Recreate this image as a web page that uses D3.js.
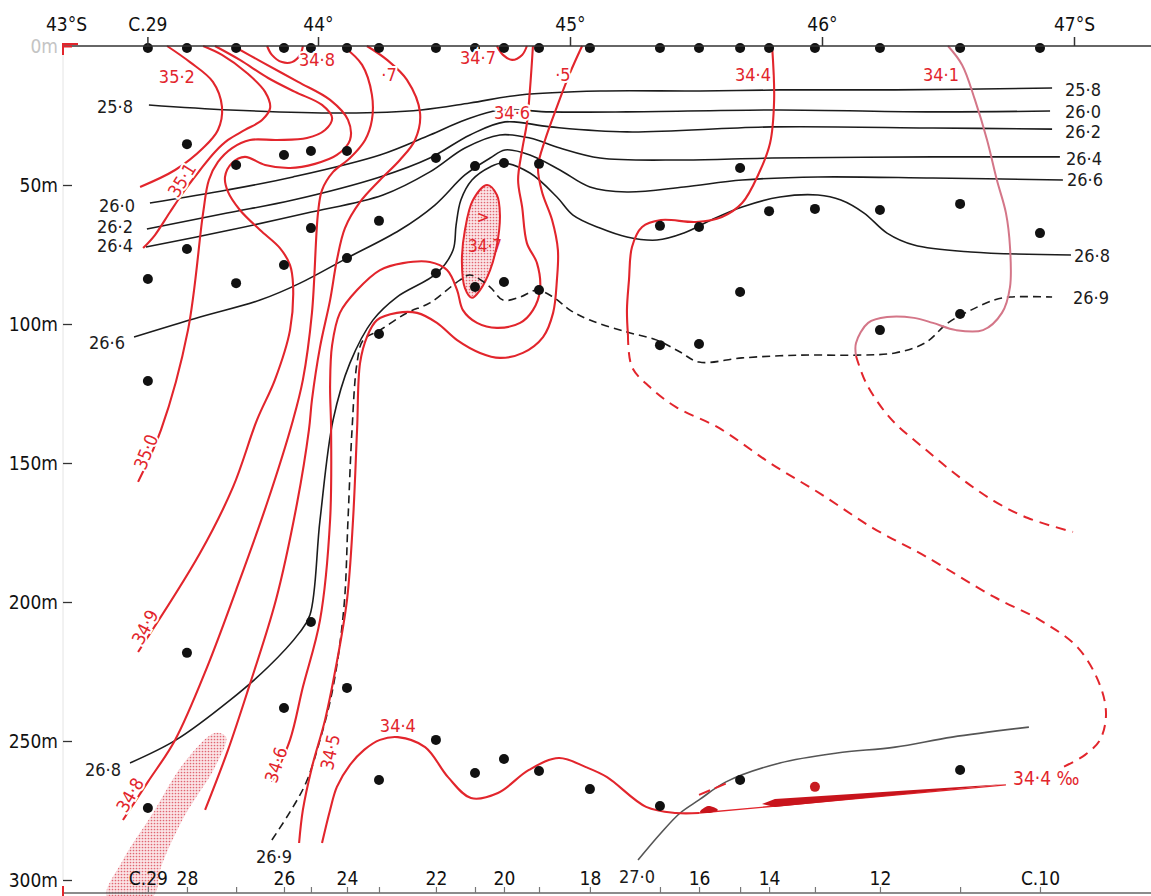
<!DOCTYPE html>
<html>
<head>
<meta charset="utf-8">
<script src="https://cdn.jsdelivr.net/npm/d3@7"></script>
<style>
  body { margin: 0; background: #fff; }
  text { font-family: "DejaVu Sans Condensed", "DejaVu Sans", sans-serif; }
</style>
</head>
<body>
<script>
// --- Stations (bottom axis) and sample depths ---
const stationIds = [29, 28, 27, 26, 25, 24, 23, 22, 21, 20, 19, 18, 17, 16, 15, 14, 13, 12, 11, 10];
const stationLat = [43.325, 43.480, 43.675, 43.865, 43.972, 44.115, 44.242, 44.468, 44.623, 44.738,
                    44.877, 45.079, 45.357, 45.512, 45.675, 45.790, 45.972, 46.230, 46.548, 46.865];
const stationLabels = ["C.29", "28", "", "26", "", "24", "", "22", "", "20", "", "18", "", "16", "", "14", "", "12", "", "C.10"];
const sampleDepths = [
  [0.7, 83.8, 120.5, 274.1], [0.7, 35.3, 73.0, 218.3], [0.7, 42.8, 85.3], [0.7, 39.2, 78.8, 238.1],
  [0.7, 37.8, 65.5, 207.2], [0.7, 37.8, 76.3, 230.9], [0.7, 62.9, 103.6, 264.0], [0.7, 40.3, 81.7, 249.6],
  [0.7, 43.2, 86.7, 261.5], [0.7, 42.1, 84.9, 256.5], [0.7, 42.4, 87.8, 260.8], [0.7, 267.3],
  [0.7, 64.7, 107.6, 273.4], [0.7, 65.1, 107.2], [0.7, 43.9, 88.5, 264.0], [0.7, 59.4],
  [0.7, 58.6], [0.7, 59.0, 102.2], [0.7, 56.8, 96.4, 260.4], [0.7, 67.3]
];
const redSamples = [[13, 266.5]];

const latTicks = [43, 44, 45, 46, 47];
const latTickLabels = ["43°S", "44°", "45°", "46°", "47°S"];
const depthTicks = [0, 50, 100, 150, 200, 250, 300];

// --- Isopycnals (sigma-t), [latitude °S, depth m] ---
const iso258 = [[43.329,21.2],[43.651,23.0],[44.107,24.1],[44.409,23.0],[44.603,20.5],[44.802,17.6],[45.119,16.2],[45.516,16.2],[45.833,15.8],[46.290,15.8],[46.913,15.1]];
const iso260 = [[43.333,56.5],[43.639,51.8],[43.901,47.1],[44.246,39.2],[44.444,32.0],[44.583,26.6],[44.722,23.0],[44.921,23.7],[45.226,23.7],[45.833,23.0],[46.440,23.7],[46.905,23.4]];
const iso262 = [[43.321,65.8],[43.639,60.1],[43.901,55.4],[44.246,47.1],[44.444,40.3],[44.603,32.0],[44.742,27.3],[44.921,29.1],[45.226,30.9],[45.802,29.1],[46.440,29.5],[46.913,29.9]];
const iso264 = [[43.317,72.3],[43.651,66.2],[43.956,60.1],[44.258,53.6],[44.444,45.3],[44.583,36.7],[44.722,32.0],[44.841,33.1],[44.960,36.7],[45.119,40.3],[45.452,41.0],[45.802,40.3],[46.440,39.9],[46.944,39.9]];
const iso266 = [[43.270,104.7],[43.532,97.5],[43.770,91.4],[43.929,85.3],[44.115,76.3],[44.325,66.2],[44.464,57.2],[44.583,46.4],[44.683,40.3],[44.742,37.4],[44.841,39.2],[44.960,44.6],[45.079,50.7],[45.226,52.5],[45.452,50.7],[45.683,48.2],[45.984,47.1],[46.440,47.5],[46.956,48.2]];
const iso268 = [[43.254,257.9],[43.437,249.6],[43.651,235.3],[43.802,223.4],[43.925,211.2],[43.968,204.7],[44.008,170.5],[44.060,134.5],[44.127,114.0],[44.218,98.6],[44.313,90.3],[44.472,81.7],[44.536,73.4],[44.548,64.4],[44.567,55.4],[44.611,48.2],[44.683,43.5],[44.734,42.1],[44.841,45.7],[44.948,54.3],[45.012,60.8],[45.119,65.5],[45.226,68.7],[45.345,69.8],[45.452,67.3],[45.560,62.6],[45.683,57.9],[45.833,54.3],[45.984,53.6],[46.075,55.4],[46.167,60.1],[46.258,67.3],[46.365,71.6],[46.591,74.1],[46.988,75.2]];
const iso269 = [[43.817,285.6],[43.889,275.5],[43.952,265.1],[44.008,249.6],[44.060,230.6],[44.103,201.8],[44.119,170.5],[44.135,138.1],[44.155,114.0],[44.179,105.8],[44.246,102.2],[44.353,96.0],[44.444,92.4],[44.563,84.2],[44.603,82.4],[44.683,86.7],[44.734,91.4],[44.802,90.3],[44.869,87.8],[44.933,90.3],[45.000,95.0],[45.079,98.6],[45.226,102.9],[45.345,105.8],[45.437,110.1],[45.512,113.7],[45.683,112.2],[45.909,111.2],[46.135,111.2],[46.290,110.4],[46.409,106.8],[46.500,99.6],[46.591,95.0],[46.683,91.4],[46.746,90.3],[46.913,90.3]];
const iso270 = [[45.270,292.8],[45.361,283.1],[45.437,275.9],[45.512,271.2],[45.619,264.7],[45.833,257.9],[46.060,254.3],[46.290,252.2],[46.516,248.6],[46.821,245.0]];

// --- Isohalines (salinity ‰) ---
const sal352 = [[43.401,0],[43.492,5.8],[43.583,12.9],[43.619,21.9],[43.603,30.2],[43.544,36.7],[43.433,44.6],[43.294,50.7]];
const sal351 = [[43.544,0],[43.619,3.2],[43.718,9.7],[43.790,16.5],[43.810,22.3],[43.778,26.6],[43.710,30.2],[43.643,33.8],[43.591,38.1],[43.532,44.6],[43.472,51.8],[43.413,59.7],[43.353,68.0],[43.306,72.7]];
const sal350 = [[43.591,0],[43.690,5.0],[43.802,11.5],[43.909,16.5],[44.016,21.2],[44.056,25.9],[44.028,30.2],[43.956,33.1],[43.837,33.8],[43.730,33.8],[43.659,36.7],[43.603,41.7],[43.567,48.2],[43.544,60.1],[43.484,102.2],[43.377,138.1],[43.286,156.8]];
const sal349 = [[43.663,0],[43.778,5.8],[43.921,12.9],[44.048,19.4],[44.119,26.6],[44.127,33.8],[44.075,39.2],[43.988,42.4],[43.889,43.9],[43.790,42.8],[43.710,39.9],[43.659,42.1],[43.631,47.1],[43.643,52.5],[43.690,59.0],[43.770,66.2],[43.849,72.7],[43.889,78.8],[43.901,86.0],[43.889,102.2],[43.829,120.1],[43.758,134.5],[43.663,158.6],[43.532,182.4],[43.286,218.0]];
const sal348 = [[44.099,0],[44.175,6.8],[44.214,17.6],[44.214,26.6],[44.187,33.8],[44.127,40.3],[44.060,45.3],[44.016,51.8],[44.000,60.1],[43.976,96.0],[43.940,120.1],[43.901,134.5],[43.798,164.4],[43.675,195.7],[43.560,223.4],[43.433,249.6],[43.325,264.7],[43.226,278.4]];
const sal347 = [[44.194,0],[44.274,5.0],[44.353,12.2],[44.405,24.1],[44.385,33.8],[44.325,41.0],[44.246,48.2],[44.167,56.1],[44.107,65.5],[44.075,77.0],[44.048,91.4],[44.008,108.3],[43.976,127.3],[43.964,138.1],[43.917,164.4],[43.833,199.3],[43.722,231.7],[43.643,253.2],[43.552,274.8]];
const sal346 = [[44.853,0],[44.841,15.8],[44.829,27.7],[44.810,37.4],[44.794,48.2],[44.810,57.9],[44.829,70.9],[44.869,78.1],[44.881,87.8],[44.853,95.0],[44.802,99.6],[44.710,101.4],[44.631,99.6],[44.575,95.0],[44.552,87.8],[44.512,80.6],[44.444,77.7],[44.337,78.1],[44.246,80.6],[44.155,87.8],[44.087,96.0],[44.056,107.6],[44.048,121.9],[44.052,138.1],[44.048,170.5],[44.008,206.5],[43.940,230.6],[43.889,249.6],[43.817,264.7]];
const sal345 = [[45.048,0],[45.000,9.7],[44.948,21.9],[44.901,33.8],[44.873,43.5],[44.889,52.5],[44.929,62.6],[44.952,73.4],[44.948,84.2],[44.933,96.0],[44.893,104.7],[44.813,110.4],[44.722,112.2],[44.643,110.4],[44.552,105.8],[44.472,99.6],[44.393,96.0],[44.313,96.0],[44.234,98.6],[44.194,104.7],[44.167,114.0],[44.155,138.1],[44.139,170.5],[44.115,199.3],[44.071,223.4],[44.028,242.4],[43.976,259.4],[43.940,274.8],[43.925,286.7]];
const sal348Surface = [[43.798,0],[43.817,3.2],[43.857,5.8],[43.897,5.8],[43.929,3.2],[43.940,0]];
const sal347Surface = [[44.710,0],[44.734,3.2],[44.770,5.0],[44.810,3.2],[44.829,0]];
const sal347Core = [[44.671,50.0],[44.710,53.6],[44.722,60.8],[44.710,71.6],[44.683,80.6],[44.643,87.8],[44.611,90.6],[44.583,87.1],[44.571,77.7],[44.583,66.2],[44.615,55.4]];
const sal349Core = [[43.591,247.1],[43.635,248.6],[43.591,259.4],[43.468,277.3],[43.377,295.3],[43.345,305.8],[43.163,305.8],[43.226,292.8],[43.345,275.9],[43.468,257.9]];
const sal344Deep = [[44.016,286.7],[44.048,274.8],[44.075,266.5],[44.127,258.6],[44.183,253.2],[44.246,249.6],[44.317,248.6],[44.425,252.2],[44.516,263.0],[44.607,270.5],[44.714,268.7],[44.837,260.4],[44.956,256.1],[45.063,259.4],[45.147,263.0],[45.302,273.7],[45.421,275.9],[45.512,275.9]];
const sal344Tail = [[45.512,275.9],[46.730,265.8]];
const sal344Wedge = [[45.762,272.7],[45.813,270.9],[46.730,265.5],[45.813,273.7]];
const sal344Blob = [[45.516,275.5],[45.548,273.4],[45.587,274.8],[45.548,275.9]];
const sal344Upper = [[45.512,269.4],[45.635,264.7]];
const sal344 = [[45.802,0],[45.810,19.4],[45.794,34.9],[45.750,45.7],[45.683,56.5],[45.603,61.5],[45.500,63.3],[45.361,62.6],[45.286,65.1],[45.246,72.3],[45.234,84.2],[45.226,95.0],[45.230,104.0]];
const sal344Inferred = [[45.230,104.0],[45.246,115.5],[45.317,122.7],[45.421,129.9],[45.591,137.4],[45.794,150.0],[45.996,161.2],[46.202,173.4],[46.409,183.5],[46.683,198.2],[46.865,206.5],[47.016,216.5],[47.103,229.9],[47.127,240.6],[47.103,249.6],[47.044,255.0],[46.956,259.4]];
const sal341 = [[46.500,0],[46.556,6.8],[46.607,19.4],[46.655,33.8],[46.694,48.2],[46.730,60.1],[46.746,72.3],[46.746,86.7],[46.714,96.0],[46.639,102.2],[46.532,102.2],[46.440,99.6],[46.365,97.8],[46.258,97.5],[46.183,99.6],[46.135,106.8],[46.135,111.5]];
const sal341Inferred = [[46.135,111.5],[46.175,121.2],[46.270,133.8],[46.409,145.0],[46.544,155.0],[46.683,163.7],[46.817,169.8],[46.996,174.8]];

// --- Labels [text, latitude, depth, rotation] ---
const redLabels = [
  ["35·2", 43.440, 11.0, 0], ["34·8", 43.996, 5.0, 0], ["·7", 44.282, 10.4, 0], ["34·7", 44.635, 4.3, 0],
  ["·5", 44.972, 10.4, 0], ["34·6", 44.770, 24.1, 0], ["34·4", 45.726, 10.4, 0],
  ["35·1", 43.460, 48.2, -58], ["35·0", 43.317, 146.0, -68], ["34·9", 43.313, 209.0, -62],
  ["34·8", 43.254, 269.4, -60], ["34·6", 43.833, 258.6, -72], ["34·5", 44.048, 254.0, -78],
  ["34·4", 44.317, 244.6, 0]
];
const pinkLabels = [["34·1", 46.472, 10.4, 0]];
const coreLabels = [[">", 44.655, 61.5], ["34·7", 44.663, 72.0]];
const isoLabelsLeft = [["25·8", 43.266, 21.9], ["26·0", 43.274, 57.2], ["26·2", 43.266, 65.1], ["26·4", 43.266, 71.6], ["26·6", 43.234, 106.8], ["26·8", 43.218, 260.4]];
const isoLabelsRight = [["25·8", 46.964, 15.5], ["26·0", 46.964, 23.4], ["26·2", 46.964, 30.6], ["26·4", 46.968, 40.3], ["26·6", 46.972, 48.2], ["26·8", 47.000, 75.5], ["26·9", 46.996, 90.6]];
const isoLabelsMid = [["26·9", 43.825, 291.7], ["27·0", 45.266, 298.9]];
const unitLabel = ["34·4 ‰", 46.758, 263.3];

// --- SVG setup ---
const width = 1151, height = 896;
const RED = "#e2252c", PINK = "#d47688", INK = "#1c1c1c";
const svg = d3.select("body").append("svg")
  .attr("width", width)
  .attr("height", height);

const x = d3.scaleLinear().domain([43, 47]).range([66, 1074]);
const y = d3.scaleLinear().domain([0, 300]).range([46, 880]);

// stipple pattern for the salinity cores
const pat = svg.append("defs").append("pattern")
  .attr("id", "stipple").attr("width", 3).attr("height", 3)
  .attr("patternUnits", "userSpaceOnUse");
pat.append("rect").attr("width", 3).attr("height", 3).attr("fill", "#fbe4e6");
pat.append("circle").attr("cx", 1.5).attr("cy", 1.5).attr("r", 0.85).attr("fill", "#e06672");

const smooth = d3.line().x(d => x(d[0])).y(d => y(d[1])).curve(d3.curveCatmullRom.alpha(0.5));
const closed = d3.line().x(d => x(d[0])).y(d => y(d[1])).curve(d3.curveCatmullRomClosed.alpha(0.5));
const straight = d3.line().x(d => x(d[0])).y(d => y(d[1]));

// frame
svg.append("line").attr("x1", 63).attr("x2", 63).attr("y1", y(0)).attr("y2", y(300))
  .attr("stroke", "#e4e4e4").attr("stroke-width", 1);

// shaded cores
svg.append("path").attr("d", closed(sal349Core)).attr("fill", "url(#stipple)").attr("stroke", "none");
svg.append("path").attr("d", closed(sal347Core)).attr("fill", "url(#stipple)")
  .attr("stroke", RED).attr("stroke-width", 2);

// isopycnals
[iso258, iso260, iso262, iso264, iso266, iso268].forEach(d => {
  svg.append("path").attr("d", smooth(d)).attr("fill", "none")
    .attr("stroke", INK).attr("stroke-width", 1.6);
});
svg.append("path").attr("d", smooth(iso269)).attr("fill", "none")
  .attr("stroke", INK).attr("stroke-width", 1.6).attr("stroke-dasharray", "8,5");
svg.append("path").attr("d", smooth(iso270)).attr("fill", "none")
  .attr("stroke", "#555").attr("stroke-width", 1.6);

// isohalines
[sal352, sal351, sal350, sal349, sal348, sal347, sal346, sal345, sal348Surface, sal347Surface, sal344Deep, sal344].forEach(d => {
  svg.append("path").attr("d", smooth(d)).attr("fill", "none")
    .attr("stroke", RED).attr("stroke-width", 2.1);
});
svg.append("path").attr("d", straight(sal344Tail)).attr("fill", "none")
  .attr("stroke", RED).attr("stroke-width", 1.3);
svg.append("path").attr("d", straight(sal344Wedge) + "Z").attr("fill", "#c8141c");
svg.append("path").attr("d", closed(sal344Blob)).attr("fill", "#c8141c");
svg.append("path").attr("d", straight(sal344Upper)).attr("fill", "none")
  .attr("stroke", RED).attr("stroke-width", 2).attr("stroke-dasharray", "12,5");
svg.append("path").attr("d", smooth(sal344Inferred)).attr("fill", "none")
  .attr("stroke", RED).attr("stroke-width", 2).attr("stroke-dasharray", "10,7");
svg.append("path").attr("d", smooth(sal341)).attr("fill", "none")
  .attr("stroke", PINK).attr("stroke-width", 2);
svg.append("path").attr("d", smooth(sal341Inferred)).attr("fill", "none")
  .attr("stroke", RED).attr("stroke-width", 2).attr("stroke-dasharray", "10,7");

// sample points
const samples = [];
stationIds.forEach((id, i) => sampleDepths[i].forEach(dep => samples.push({ lat: stationLat[i], depth: dep })));
svg.selectAll(".sample").data(samples).enter().append("circle")
  .attr("class", "sample")
  .attr("cx", d => x(d.lat)).attr("cy", d => y(d.depth))
  .attr("r", 5).attr("fill", "#111");
svg.selectAll(".red-sample").data(redSamples).enter().append("circle")
  .attr("class", "red-sample")
  .attr("cx", d => x(stationLat[stationIds.indexOf(d[0])])).attr("cy", d => y(d[1]))
  .attr("r", 5).attr("fill", "#c81c22");

// labels
function addLabels(rows, color, size, anchor, halo) {
  rows.forEach(r => {
    const t = svg.append("text")
      .attr("transform", `translate(${x(r[1])},${y(r[2])}) rotate(${r[3] || 0})`)
      .attr("text-anchor", anchor).attr("dy", "0.36em")
      .attr("font-size", size).attr("fill", color).text(r[0]);
    if (halo) t.attr("stroke", "#fff").attr("stroke-width", 4).attr("paint-order", "stroke");
  });
}
addLabels(redLabels, RED, 18, "middle", true);
addLabels(pinkLabels, RED, 18, "middle", true);
addLabels(coreLabels, RED, 17, "middle", false);
addLabels(isoLabelsLeft, INK, 18, "end", false);
addLabels(isoLabelsRight, INK, 18, "start", true);
addLabels(isoLabelsMid, INK, 18, "middle", true);
addLabels([unitLabel], RED, 19, "start", false);

// --- Axes ---
// top: latitude
svg.append("line").attr("x1", 63).attr("x2", width).attr("y1", y(0)).attr("y2", y(0))
  .attr("stroke", "#333").attr("stroke-width", 1.5);
const topAxis = svg.append("g").attr("transform", `translate(0,${y(0)})`)
  .call(d3.axisTop(x).tickValues(latTicks).tickSize(9).tickPadding(6)
    .tickFormat((d, i) => latTickLabels[i]));
topAxis.select(".domain").remove();
topAxis.selectAll(".tick line").attr("stroke", "#333").attr("stroke-width", 1.5)
  .filter(d => d === 43).remove();
topAxis.selectAll("text").attr("font-size", 19).attr("fill", "#111");
svg.append("line").attr("x1", x(stationLat[0])).attr("x2", x(stationLat[0]))
  .attr("y1", y(0) - 9).attr("y2", y(0)).attr("stroke", "#333").attr("stroke-width", 1.5);
svg.append("text").attr("x", x(stationLat[0])).attr("y", y(0) - 15)
  .attr("text-anchor", "middle").attr("font-size", 19).attr("fill", "#111").text("C.29");

// left: depth
const leftAxis = svg.append("g").attr("transform", "translate(63,0)")
  .call(d3.axisLeft(y).tickValues(depthTicks).tickSize(-9).tickPadding(5)
    .tickFormat(d => d + "m"));
leftAxis.select(".domain").remove();
leftAxis.selectAll(".tick line").attr("stroke", "#333").attr("stroke-width", 1.3);
leftAxis.selectAll("text").attr("font-size", 19).attr("fill", d => d === 0 ? "#c4c4c4" : "#111");
leftAxis.selectAll(".tick line").filter(d => d === 0).attr("stroke", RED).attr("stroke-width", 2);

// bottom: station numbers
svg.append("line").attr("x1", 63).attr("x2", width).attr("y1", 893).attr("y2", 893)
  .attr("stroke", "#666").attr("stroke-width", 1.5);
const bottomAxis = svg.append("g").attr("transform", "translate(0,893)")
  .call(d3.axisTop(x).tickValues(stationLat).tickSize(6).tickPadding(2)
    .tickFormat((d, i) => stationLabels[i]));
bottomAxis.select(".domain").remove();
bottomAxis.selectAll(".tick line").attr("stroke", "#777").attr("stroke-width", 1.2);
bottomAxis.selectAll("text").attr("font-size", 19).attr("fill", "#111");

// red corner marks
svg.append("path").attr("d", `M63,${y(0) + 9}V${y(0) - 2}H78`).attr("fill", "none")
  .attr("stroke", RED).attr("stroke-width", 2);
svg.append("path").attr("d", `M63,${y(300) + 6}V896`).attr("fill", "none")
  .attr("stroke", RED).attr("stroke-width", 2);
</script>
</body>
</html>
